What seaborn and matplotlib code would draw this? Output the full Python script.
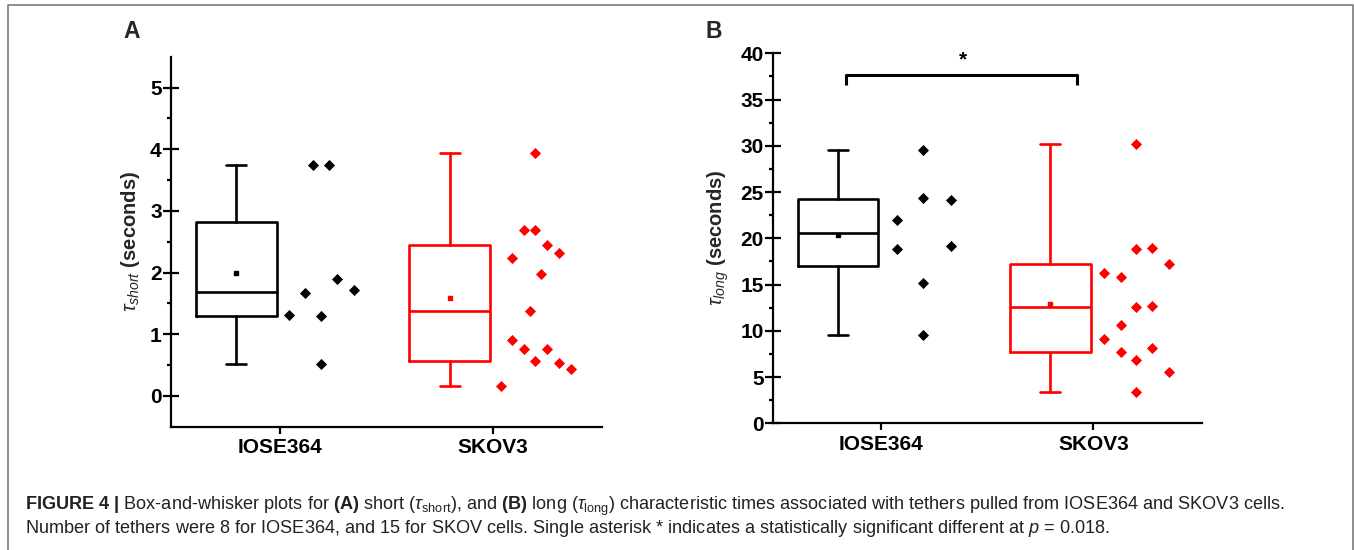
import numpy as np
import matplotlib
matplotlib.use("Agg")
import matplotlib.pyplot as plt
import seaborn as sns
from matplotlib.lines import Line2D

# -------------------------------
# Data
# -------------------------------
groups = ["IOSE364", "SKOV3"]

# tau_short in seconds (panel A)
short_iose = [1.31, 1.67, 3.74, 0.52, 1.29, 3.74, 1.90, 1.71]
short_skov = [0.16, 2.24, 0.90, 2.69, 0.76, 1.37, 3.94, 2.69, 0.57, 1.98,
              2.44, 0.76, 2.31, 0.53, 0.43]

# tau_long in seconds (panel B)
long_iose = [21.98, 18.85, 29.59, 24.40, 15.14, 9.59, 24.11, 19.17]
long_skov = [16.29, 9.12, 15.82, 10.59, 7.68, 30.16, 18.88, 12.54, 6.85, 3.39,
             18.99, 12.68, 8.14, 17.23, 5.51]

# horizontal placement of the raw points to the right of each group tick
spread_short_iose = [0.042, 0.119, 0.158, 0.196, 0.196, 0.232, 0.271, 0.349]
spread_short_skov = [0.038, 0.091, 0.091, 0.146, 0.146, 0.172, 0.199, 0.199,
                     0.199, 0.224, 0.254, 0.254, 0.310, 0.310, 0.364]
spread_long_iose = [0.073, 0.073, 0.2, 0.2, 0.2, 0.2, 0.328, 0.328]
spread_long_skov = [0.052, 0.052, 0.128, 0.128, 0.128, 0.203, 0.203, 0.203,
                    0.203, 0.203, 0.278, 0.278, 0.278, 0.358, 0.358]

colors = ["black", "#ff0000"]
BOX_SHIFT = -0.203
BOX_W = 0.38
CAP_W = 0.094

sns.set_theme(style="ticks")
plt.rcParams["font.family"] = ["Liberation Sans", "DejaVu Sans"]
plt.rcParams["mathtext.fontset"] = "custom"
plt.rcParams["mathtext.rm"] = "Liberation Sans"
plt.rcParams["mathtext.it"] = "Liberation Sans:italic"
plt.rcParams["mathtext.bf"] = "Liberation Sans:bold"


def box_stats(vals):
    """Quartiles as medians of the lower/upper halves, whiskers at min/max."""
    v = np.sort(np.asarray(vals))
    n = len(v)
    lo = v[: n // 2]
    hi = v[(n + 1) // 2:]
    return dict(med=np.median(v), q1=np.median(lo), q3=np.median(hi),
                whislo=v.min(), whishi=v.max(), mean=v.mean(), fliers=[])


def draw_panel(ax, data, spreads, ylim, major, minor):
    for i, (vals, spread, col) in enumerate(zip(data, spreads, colors)):
        line = dict(color=col, lw=1.9)
        ax.bxp([box_stats(vals)], positions=[i + BOX_SHIFT], widths=BOX_W,
               capwidths=CAP_W, showmeans=True, showfliers=False,
               boxprops=line, whiskerprops=line, capprops=line,
               medianprops=line, manage_ticks=False,
               meanprops=dict(marker="s", markersize=3.2, markerfacecolor=col,
                              markeredgecolor=col))
        sns.scatterplot(x=i + np.array(spread), y=vals, ax=ax, marker="D",
                        s=32, color=col, edgecolor=col, linewidth=0, zorder=3)

    ax.set_xlim(-0.51, 1.51)
    ax.set_ylim(*ylim)
    ax.set_xticks([0, 1])
    ax.set_xticklabels(groups, fontsize=15, fontweight="bold")
    ax.set_yticks(major)
    ax.set_yticks(minor, minor=True)
    for lab in ax.get_yticklabels():
        lab.set_fontweight("bold")
        lab.set_fontsize(15)
    sns.despine(ax=ax)
    for s in ["left", "bottom"]:
        ax.spines[s].set_linewidth(1.6)
        ax.spines[s].set_color("black")
    ax.tick_params(axis="y", which="major", direction="inout", length=11,
                   width=1.6, pad=1, colors="black")
    ax.tick_params(axis="y", which="minor", direction="out", length=3.2,
                   width=1.6, colors="black")
    ax.tick_params(axis="x", which="major", direction="out", length=5,
                   width=1.6, pad=3.5, colors="black")
    ax.tick_params(axis="x", which="minor", length=0)
    ax.set_xlabel("")


fig = plt.figure(figsize=(13.54, 5.5), dpi=100)
axA = fig.add_axes([0.1261, 0.2242, 0.3183, 0.6727])
axB = fig.add_axes([0.5707, 0.2304, 0.3168, 0.6727])

draw_panel(axA, [short_iose, short_skov],
           [spread_short_iose, spread_short_skov], (-0.5, 5.5),
           np.arange(0, 6, 1), np.arange(0.5, 5, 1))
draw_panel(axB, [long_iose, long_skov],
           [spread_long_iose, spread_long_skov], (0, 40),
           np.arange(0, 45, 5), np.arange(2.5, 40, 5))

axA.set_ylabel(r"$\tau_{short}$ (seconds)", fontsize=14.5, fontweight="bold")
axA.yaxis.set_label_coords(-0.066, 0.5)
axB.set_ylabel(r"$\tau_{long}$ (seconds)", fontsize=14.5, fontweight="bold")
axB.yaxis.set_label_coords(-0.097, 0.5)

# significance bracket in panel B
axB.plot([-0.164, -0.164, 0.924, 0.924], [36.6, 37.65, 37.65, 36.6],
         color="black", lw=2.2, solid_capstyle="butt", clip_on=False)
axB.text(0.384, 39.3, "*", ha="center", va="center", fontsize=15,
         fontweight="bold", color="black")

# panel letters
fig.text(132 / 1354, 1 - 31 / 550, "A", ha="center", va="center",
         fontsize=16.5, fontweight="bold")
fig.text(714 / 1354, 1 - 32 / 550, "B", ha="center", va="center",
         fontsize=16.5, fontweight="bold")

# caption
cap1 = (r"$\mathbf{FIGURE\ 4\ |}$ Box-and-whisker plots for $\mathbf{(A)}$ short "
        r"($\tau_{\rm short}$), and $\mathbf{(B)}$ long ($\tau_{\rm long}$) characteristic "
        r"times associated with tethers pulled from IOSE364 and SKOV3 cells.")
cap2 = (r"Number of tethers were 8 for IOSE364, and 15 for SKOV cells. Single "
        r"asterisk * indicates a statistically significant different at $p$ = 0.018.")
fig.text(25 / 1354, 1 - 510 / 550, cap1, ha="left", va="baseline",
         fontsize=13.1, color="#222222")
fig.text(25 / 1354, 1 - 533 / 550, cap2, ha="left", va="baseline",
         fontsize=13.1, color="#222222")

# thin gray frame around the figure (open at the bottom)
frame_x = [8 / 1354, 8 / 1354, 1352.5 / 1354, 1352.5 / 1354]
frame_y = [0, 1 - 4.5 / 550, 1 - 4.5 / 550, 0]
fig.add_artist(Line2D(frame_x, frame_y, transform=fig.transFigure,
                      color="#7a7a7a", lw=1.2))

fig.savefig("out.png", dpi=100)
